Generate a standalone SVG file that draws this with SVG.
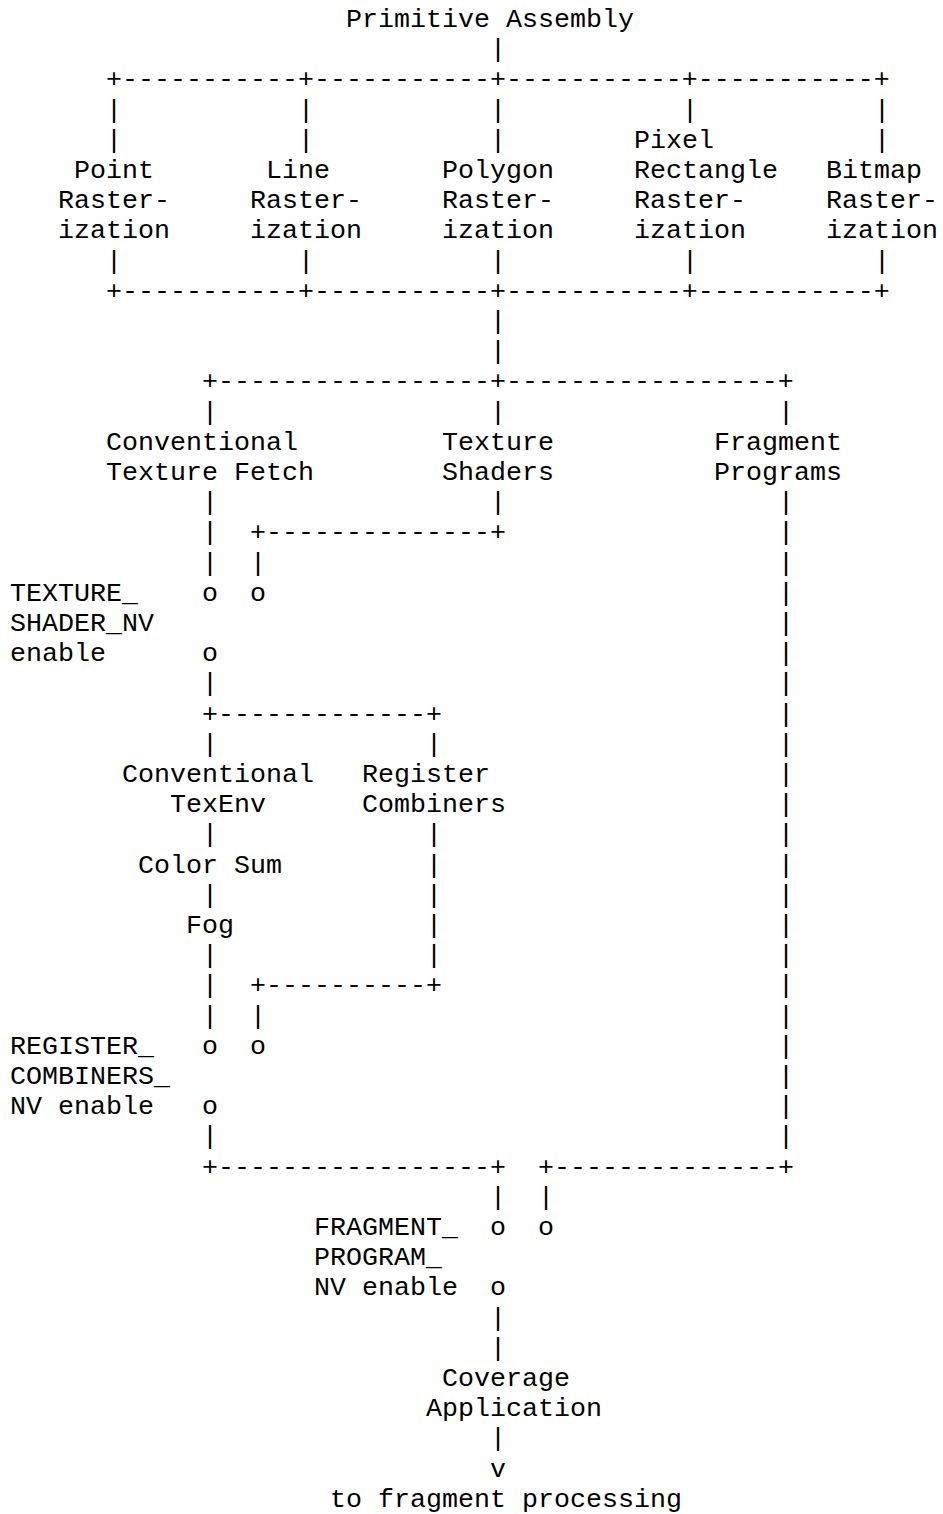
<svg xmlns="http://www.w3.org/2000/svg" width="943" height="1514" viewBox="0 0 943 1514">
<style>
text { font-family: "Liberation Mono", "Courier New", monospace; font-size: 26.67px; fill: #000; }
</style>
<rect x="0" y="0" width="943" height="1514" fill="#fff"/>
<g id="connectors">
<text x="490" y="57.2">|</text>
<text x="106" y="87.4">+-----------+-----------+-----------+-----------+</text>
<text x="106 298 490 682 874" y="117.6">|||||</text>
<text x="106 298 490" y="147.8">|||</text>
<text x="874" y="147.8">|</text>
<text x="106 298 490 682 874" y="268.6">|||||</text>
<text x="106" y="298.8">+-----------+-----------+-----------+-----------+</text>
<text x="490" y="329">|</text>
<text x="490" y="359.2">|</text>
<text x="202" y="389.4">+-----------------+-----------------+</text>
<text x="202 490 778" y="419.6">|||</text>
<text x="202 490 778" y="510.2">|||</text>
<text x="202" y="540.4">|</text>
<text x="250" y="540.4">+--------------+</text>
<text x="778" y="540.4">|</text>
<text x="202 250 778" y="570.6">|||</text>
<text x="202 250" y="600.8">oo</text>
<text x="778" y="600.8">|</text>
<text x="778" y="631">|</text>
<text x="202 778" y="661.2">o|</text>
<text x="202 778" y="691.4">||</text>
<text x="202" y="721.6">+-------------+</text>
<text x="778" y="721.6">|</text>
<text x="202 426 778" y="751.8">|||</text>
<text x="778" y="782">|</text>
<text x="778" y="812.2">|</text>
<text x="202 426 778" y="842.4">|||</text>
<text x="426 778" y="872.6">||</text>
<text x="202 426 778" y="902.8">|||</text>
<text x="426 778" y="933">||</text>
<text x="202 426 778" y="963.2">|||</text>
<text x="202" y="993.4">|</text>
<text x="250" y="993.4">+----------+</text>
<text x="778" y="993.4">|</text>
<text x="202 250 778" y="1023.6">|||</text>
<text x="202 250" y="1053.8">oo</text>
<text x="778" y="1053.8">|</text>
<text x="778" y="1084">|</text>
<text x="202 778" y="1114.2">o|</text>
<text x="202 778" y="1144.4">||</text>
<text x="202" y="1174.6">+-----------------+</text>
<text x="538" y="1174.6">+--------------+</text>
<text x="490 538" y="1204.8">||</text>
<text x="490 538" y="1235">oo</text>
<text x="490" y="1295.4">o</text>
<text x="490" y="1325.6">|</text>
<text x="490" y="1355.8">|</text>
<text x="490" y="1446.4">|</text>
<text x="490" y="1476.6">v</text>
</g>
<g id="primitive-assembly"><text x="346" y="27">Primitive Assembly</text></g>
<g id="point-rasterization">
<text x="74" y="178">Point</text>
<text x="58" y="208.2">Raster-</text>
<text x="58" y="238.4">ization</text>
</g>
<g id="line-rasterization">
<text x="266" y="178">Line</text>
<text x="250" y="208.2">Raster-</text>
<text x="250" y="238.4">ization</text>
</g>
<g id="polygon-rasterization">
<text x="442" y="178">Polygon</text>
<text x="442" y="208.2">Raster-</text>
<text x="442" y="238.4">ization</text>
</g>
<g id="pixel-rectangle-rasterization">
<text x="634" y="147.8">Pixel</text>
<text x="634" y="178">Rectangle</text>
<text x="634" y="208.2">Raster-</text>
<text x="634" y="238.4">ization</text>
</g>
<g id="bitmap-rasterization">
<text x="826" y="178">Bitmap</text>
<text x="826" y="208.2">Raster-</text>
<text x="826" y="238.4">ization</text>
</g>
<g id="conventional-texture-fetch">
<text x="106" y="449.8">Conventional</text>
<text x="106" y="480">Texture Fetch</text>
</g>
<g id="texture-shaders">
<text x="442" y="449.8">Texture</text>
<text x="442" y="480">Shaders</text>
</g>
<g id="fragment-programs">
<text x="714" y="449.8">Fragment</text>
<text x="714" y="480">Programs</text>
</g>
<g id="texture-shader-enable">
<text x="10" y="600.8">TEXTURE_</text>
<text x="10" y="631">SHADER_NV</text>
<text x="10" y="661.2">enable</text>
</g>
<g id="conventional-texenv">
<text x="122" y="782">Conventional</text>
<text x="170" y="812.2">TexEnv</text>
</g>
<g id="register-combiners">
<text x="362" y="782">Register</text>
<text x="362" y="812.2">Combiners</text>
</g>
<g id="color-sum"><text x="138" y="872.6">Color Sum</text></g>
<g id="fog"><text x="186" y="933">Fog</text></g>
<g id="register-combiners-enable">
<text x="10" y="1053.8">REGISTER_</text>
<text x="10" y="1084">COMBINERS_</text>
<text x="10" y="1114.2">NV enable</text>
</g>
<g id="fragment-program-enable">
<text x="314" y="1235">FRAGMENT_</text>
<text x="314" y="1265.2">PROGRAM_</text>
<text x="314" y="1295.4">NV enable</text>
</g>
<g id="coverage-application">
<text x="442" y="1386">Coverage</text>
<text x="426" y="1416.2">Application</text>
</g>
<g id="fragment-processing"><text x="330" y="1506.8">to fragment processing</text></g>
</svg>
